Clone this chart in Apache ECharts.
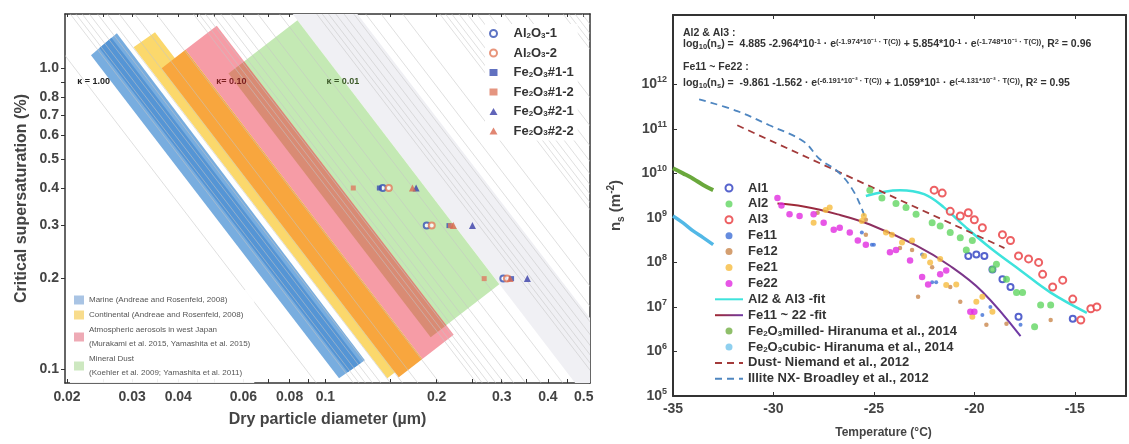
<!DOCTYPE html>
<html>
<head>
<meta charset="utf-8">
<title>CCN and INP chart</title>
<script src="https://cdn.jsdelivr.net/npm/echarts@6.0.0/dist/echarts.min.js"></script>
<style>html,body{margin:0;padding:0;background:#fff}#chart{width:1129px;height:444px}</style>
</head>
<body>
<div id="chart"></div>
<script>
// ================= LEFT PANEL DATA =================
const leftXRange = [0.01975, 0.52];          // dry diameter (µm)
const leftYRange = [0.09, 1.514];            // critical supersaturation (%)
const leftXLabels = [0.02, 0.03, 0.04, 0.06, 0.08, 0.1, 0.2, 0.3, 0.4, 0.5];
const leftXTicks = [0.02, 0.025, 0.03, 0.035, 0.04, 0.045, 0.05, 0.06, 0.07, 0.08, 0.09, 0.1, 0.15, 0.2, 0.25, 0.3, 0.35, 0.4, 0.45, 0.5];
const leftYLabels = [0.1, 0.2, 0.3, 0.4, 0.5, 0.6, 0.7, 0.8, 1.0];
const leftYTicks = [0.1, 0.2, 0.3, 0.4, 0.5, 0.6, 0.7, 0.8, 0.9, 1.0];

// kappa iso-lines: dry diameter (µm) where each line crosses 1 % supersaturation
const kappaLineD = [0.02099, 0.02645, 0.02739, 0.02849, 0.02979, 0.03136, 0.03332, 0.03590, 0.03951, 0.04523,
  0.05698, 0.05901, 0.06138, 0.06417, 0.06756, 0.07179, 0.07734, 0.08512, 0.09744,
  0.1228, 0.1271, 0.1322, 0.1383, 0.1456, 0.1547, 0.1666, 0.1834, 0.2099,
  0.2645, 0.2739, 0.2849, 0.2979, 0.3136, 0.3332, 0.3590, 0.3951, 0.4523,
  0.5698, 0.5901, 0.6138, 0.6417];
const kappaLineSlope = 1.6;   // |d log S / d log D| of the iso-lines
const kappaText = ['κ = 1.00', 'κ= 0.10', 'κ = 0.01'];
const kappaTextD = [0.0236, 0.0557, 0.1116];
const kappaTextS = [0.905, 0.905, 0.905];

// aerosol-type bands: corner diameters / supersaturations (TL, TR, BR, BL)
const bandNames = [
  'Marine (Andreae and Rosenfeld, 2008)',
  'Continental (Andreae and Rosenfeld, 2008)',
  'Atmospheric aerosols in west Japan\n(Murakami et al. 2015, Yamashita et al. 2015)',
  'Mineral Dust\n(Koehler et al. 2009; Yamashita et al. 2011)'
];
const marineD = [[0.02322, 0.02728, 0.1279, 0.1089], [0.02447, 0.02638, 0.1246, 0.1150]];
const marineS = [[1.105, 1.307, 0.1071, 0.0933], [1.167, 1.262, 0.1048, 0.0978]];
const continentalD = [[0.03027, 0.0346, 0.1673, 0.1471], [0.03607, 0.04183, 0.1830, 0.1580]];
const continentalS = [[1.174, 1.317, 0.1055, 0.0933], [1.0, 1.151, 0.1081, 0.0941]];
const westJapanD = [[0.04183, 0.05084, 0.2224, 0.1830]];
const westJapanS = [[1.151, 1.384, 0.1301, 0.1081]];
const dustD = [[0.05468, 0.08402, 0.2956, 0.1927], [0.05468, 0.06029, 0.2124, 0.1927]];
const dustS = [[0.9605, 1.443, 0.1916, 0.1276], [0.9605, 1.0534, 0.1400, 0.1276]];
const lowKappaD = [[0.08158, 0.1221, 0.709, 0.474]];
const lowKappaS = [[1.514, 1.514, 0.09, 0.09]];

// measured samples: diameters (µm) at each supersaturation level
const ssLevels = [0.4, 0.3, 0.2];
const sampleNames = ['Al2O3-1', 'Al2O3-2', 'Fe2O3#1-1', 'Fe2O3#1-2', 'Fe2O3#2-1', 'Fe2O3#2-2'];
const dAl2O3_1 = [0.143, 0.188, 0.303];
const dAl2O3_2 = [0.1485, 0.194, 0.310];
const dFe1_1 = [0.140, 0.216, 0.319];
const dFe1_2 = [0.119, 0.218, 0.269];
const dFe2_1 = [0.176, 0.250, 0.352];
const dFe2_2 = [0.172, 0.222, 0.316];

// ================= RIGHT PANEL DATA =================
const tempRange = [-35, -12.45];
const nsExpRange = [5, 13.556];
const nsTickExps = [5, 6, 7, 8, 9, 10, 11, 12];

const al1T = [-20.3, -19.9, -19.5, -19.1, -18.6, -18.2, -17.8, -15.1];
const al1N = [1.4e8, 1.5e8, 1.4e8, 6.9e7, 4.2e7, 2.8e7, 6.0e6, 5.4e6];
const al2T = [-25.2, -24.6, -23.9, -23.4, -22.9, -22.1, -21.7, -21.2, -20.7, -20.1, -20.4, -19.1, -18.9, -18.4, -17.9, -17.6, -16.7, -16.2, -17.0];
const al2N = [4.2e9, 2.8e9, 2.1e9, 1.7e9, 1.2e9, 7.8e8, 6.6e8, 4.7e8, 3.6e8, 3.1e8, 1.9e8, 6.9e7, 9.1e7, 4.2e7, 2.1e7, 2.1e7, 1.1e7, 1.1e7, 3.6e6];
const al3T = [-22.0, -21.6, -21.2, -20.7, -20.3, -20.0, -19.6, -18.6, -18.2, -17.8, -17.3, -16.8, -16.6, -16.1, -15.6, -15.1, -14.7, -14.2, -13.9];
const al3N = [4.2e9, 3.6e9, 1.4e9, 1.1e9, 1.3e9, 9.1e8, 6.0e8, 4.2e8, 3.1e8, 1.4e8, 1.2e8, 1.0e8, 5.4e7, 2.8e7, 4.0e7, 1.5e7, 5.1e6, 9.1e6, 1.0e7];
const fe11T = [-25.6, -25.1, -25.0, -22.6, -22.1, -21.9, -19.6, -19.2, -17.7];
const fe11N = [4.7e8, 2.5e8, 2.5e8, 1.5e8, 3.6e7, 3.6e7, 6.6e6, 1.0e7, 4.0e6];
const fe12T = [-27.8, -25.4, -25.4, -23.7, -23.1, -22.8, -22.1, -21.2, -20.7, -19.4, -18.4, -16.2];
const fe12N = [1.3e9, 9.1e8, 4.2e8, 2.1e8, 1.9e8, 1.7e7, 7.8e7, 2.8e7, 1.3e7, 4.0e6, 4.2e6, 5.1e6];
const fe21T = [-28.0, -27.4, -27.2, -25.6, -25.5, -24.4, -24.1, -23.6, -23.1, -22.5, -22.2, -21.7, -21.4, -20.9, -20.1, -19.9, -19.6, -19.1];
const fe21N = [7.8e8, 1.5e9, 1.7e9, 8.5e8, 1.1e9, 4.7e8, 4.2e8, 2.8e8, 3.1e8, 1.4e8, 1.0e8, 1.2e8, 3.1e7, 3.2e7, 6.0e6, 1.3e7, 1.7e7, 7.8e6];
const fe22T = [-29.8, -29.6, -29.2, -28.7, -28.0, -27.5, -27.0, -26.7, -26.2, -25.8, -25.4, -24.2, -23.9, -23.2, -22.6, -22.3, -21.7, -21.4, -20.2, -20.0];
const fe22N = [2.8e9, 1.9e9, 1.2e9, 1.1e9, 1.2e9, 7.8e8, 5.4e8, 6.0e8, 4.7e8, 3.1e8, 2.5e8, 1.7e8, 1.9e8, 1.1e8, 4.7e7, 3.2e7, 5.4e7, 6.6e7, 7.8e6, 7.8e6];

const alFitT = [-25.4, -23.7, -22.5, -21.5, -20.5, -19.2, -17.7, -16.2, -14.4];
const alFitN = [3.1e9, 4.2e9, 3.4e9, 1.7e9, 6.6e8, 2.1e8, 6.6e7, 2.1e7, 7.4e6];
const feFitT = [-29.8, -28.5, -26.8, -25.2, -22.9, -21.2, -19.6, -17.7];
const feFitN = [2.1e9, 1.8e9, 1.2e9, 7.1e8, 2.4e8, 8.3e7, 2.2e7, 2.2e6];
const milledT = [-35, -34.5, -34, -33.5, -33];
const milledN = [1.3e10, 1.0e10, 7.6e9, 5.5e9, 4.2e9];
const cubicT = [-35, -34.5, -34, -33.5, -33];
const cubicN = [1.1e9, 7.7e8, 5.1e8, 3.6e8, 2.5e8];
const dustT = [-31.8, -18.5];
const dustN = [1.2e11, 2.1e8];
const illiteT = [-33.7, -31.8, -30.2, -28.5, -27.7, -26.8, -26.1, -25.55, -25.45];
const illiteN = [4.6e11, 2.5e11, 1.2e11, 5.2e10, 2.1e10, 1.1e10, 4.6e9, 1.4e9, 9.0e8];

// ================= BUILD =================
const L10 = v => Math.log10(v);
const FONT = 'Arial, "Liberation Sans", sans-serif';
const AX = '#333';
const LBL = '#444';

const fmtLeftX = v => String(parseFloat(Math.pow(10, v).toPrecision(2)));
const fmtLeftY = v => Math.pow(10, v).toFixed(1);

function bandSeries(name, D, S, fills, z2s) {
  return {
    type: 'custom', name, coordinateSystem: 'cartesian2d', xAxisIndex: 0, yAxisIndex: 0,
    clip: true, z: 2, silent: true,
    data: D.map((d, i) => d.map(L10).concat(S[i].map(L10))),
    encode: { x: [0, 1, 2, 3], y: [4, 5, 6, 7] },
    itemStyle: { color: fills[0] },
    renderItem: (params, api) => {
      const pts = [0, 1, 2, 3].map(k => api.coord([api.value(k), api.value(k + 4)]));
      return { type: 'polygon', z2: z2s[params.dataIndex], shape: { points: pts },
        style: { fill: fills[params.dataIndex] } };
    }
  };
}

const leftSampleStyle = [
  { d: dAl2O3_1, symbol: 'emptyCircle', size: 6, color: '#3550b4' },
  { d: dAl2O3_2, symbol: 'emptyCircle', size: 6, color: '#e27a5a' },
  { d: dFe1_1, symbol: 'rect', size: 5, color: '#3a4db0' },
  { d: dFe1_2, symbol: 'rect', size: 5, color: '#de7a60' },
  { d: dFe2_1, symbol: 'triangle', size: 7, color: '#3a3fa8' },
  { d: dFe2_2, symbol: 'triangle', size: 7, color: '#d9684f' }
];

const rightScatterStyle = [
  { name: 'Al1', T: al1T, N: al1N, symbol: 'emptyCircle', size: 6, color: '#2c3cc0' },
  { name: 'Al2', T: al2T, N: al2N, symbol: 'circle', size: 7, color: '#62d662' },
  { name: 'Al3', T: al3T, N: al3N, symbol: 'emptyCircle', size: 7, color: '#e8383c' },
  { name: 'Fe11', T: fe11T, N: fe11N, symbol: 'circle', size: 4, color: '#3e6fd6' },
  { name: 'Fe12', T: fe12T, N: fe12N, symbol: 'circle', size: 4.5, color: '#c9874c' },
  { name: 'Fe21', T: fe21T, N: fe21N, symbol: 'circle', size: 6, color: '#f6bb3e' },
  { name: 'Fe22', T: fe22T, N: fe22N, symbol: 'circle', size: 6.5, color: '#e12ce0' }
];

const lineNames = ['Al2 & Al3 -fit', 'Fe11 ~ 22 -fit', 'Fe2O3milled- Hiranuma et al., 2014',
  'Fe2O3cubic- Hiranuma et al., 2014', 'Dust- Niemand et al., 2012', 'Illite NX- Broadley et al., 2012'];

const series = [];
// bands
series.push(bandSeries(bandNames[0], marineD, marineS, ['#78addf', '#5595d5'], [6, 7]));
series.push(bandSeries(bandNames[1], continentalD, continentalS, ['#fbd86c', '#f8a63e'], [4, 5]));
series.push(bandSeries(bandNames[2], westJapanD, westJapanS, ['#f69ca6'], [2]));
series.push(bandSeries(bandNames[3], dustD, dustS, ['#c4e9b4', '#d98b74'], [1, 3]));
series.push(bandSeries('low kappa', lowKappaD, lowKappaS, ['#f0f0f4'], [0]));
// kappa iso-lines
series.push({
  type: 'custom', name: 'kappa lines', coordinateSystem: 'cartesian2d', xAxisIndex: 0, yAxisIndex: 0,
  clip: true, z: 3, silent: true,
  data: kappaLineD.map(d => [L10(d), 0]),
  encode: { x: 0, y: 1 },
  renderItem: (params, api) => {
    const x0 = api.value(0);
    const yTop = L10(leftYRange[1]) + 0.05, yBot = L10(leftYRange[0]) - 0.05;
    const p1 = api.coord([x0 - yTop / kappaLineSlope, yTop]);
    const p2 = api.coord([x0 - yBot / kappaLineSlope, yBot]);
    return { type: 'line', shape: { x1: p1[0], y1: p1[1], x2: p2[0], y2: p2[1] },
      style: { stroke: '#c4c4c4', lineWidth: 1, opacity: 0.55 } };
  }
});
// kappa labels
const kappaColors = ['#222', '#7a1f1f', '#3d5a2a'];
series.push({
  type: 'custom', name: 'kappa labels', coordinateSystem: 'cartesian2d', xAxisIndex: 0, yAxisIndex: 0,
  z: 5, silent: true,
  data: kappaText.map((t, i) => [L10(kappaTextD[i]), L10(kappaTextS[i])]),
  encode: { x: 0, y: 1 },
  renderItem: (params, api) => {
    const p = api.coord([api.value(0), api.value(1)]);
    return { type: 'text', x: p[0], y: p[1],
      style: { text: kappaText[params.dataIndex], fill: kappaColors[params.dataIndex],
        fontSize: 9, fontWeight: 'bold', fontFamily: FONT, align: 'center', verticalAlign: 'middle' } };
  }
});
// left samples
sampleNames.forEach((nm, i) => {
  const st = leftSampleStyle[i];
  series.push({
    type: 'scatter', name: nm, xAxisIndex: 0, yAxisIndex: 0, z: 6,
    symbol: st.symbol, symbolSize: st.size,
    itemStyle: { color: st.color, borderWidth: st.symbol === 'emptyCircle' ? 1.3 : 0 },
    data: st.d.map((d, k) => [L10(d), L10(ssLevels[k])])
  });
});
// right lines
const fitFe = new echarts.graphic.LinearGradient(0, 0, 1, 0, [
  { offset: 0, color: '#a2282e' }, { offset: 1, color: '#6e3aa8' }]);
const lineDefs = [
  { T: alFitT, N: alFitN, color: '#3ee3dc', width: 2.5, type: 'solid', smooth: true },
  { T: feFitT, N: feFitN, color: fitFe, legendColor: '#8a2b5a', width: 2, type: 'solid', smooth: true },
  { T: milledT, N: milledN, color: '#6aa83c', width: 4, type: 'solid', smooth: true },
  { T: cubicT, N: cubicN, color: '#52b8e6', width: 3.5, type: 'solid', smooth: true },
  { T: dustT, N: dustN, color: '#a33a3a', width: 1.8, type: [7, 5], smooth: false },
  { T: illiteT, N: illiteN, color: '#4f86c0', width: 1.8, type: [7, 5], smooth: true }
];
lineNames.forEach((nm, i) => {
  const st = lineDefs[i];
  series.push({
    type: 'line', name: nm, xAxisIndex: 2, yAxisIndex: 2, z: 3,
    showSymbol: false, symbol: 'none', smooth: st.smooth ? 0.4 : false,
    lineStyle: { color: st.color, width: st.width, type: st.type },
    itemStyle: { color: st.legendColor || st.color },
    data: st.T.map((t, k) => [t, L10(st.N[k])])
  });
});
// right scatter
rightScatterStyle.forEach(st => {
  series.push({
    type: 'scatter', name: st.name, xAxisIndex: 2, yAxisIndex: 2, z: 4,
    symbol: st.symbol, symbolSize: st.size,
    itemStyle: { color: st.color, borderWidth: st.symbol === 'emptyCircle' ? 1.4 : 0 },
    data: st.T.map((t, k) => [t, L10(st.N[k])])
  });
});

const subRich = {
  s: { fontSize: 8, fontWeight: 'bold', verticalAlign: 'bottom', color: '#333', fontFamily: FONT },
};
const chemFmt = n => n.replace(/(Al|Fe)2O3/, '$1{s|2}O{s|3}');

const formulaRich = {
  b: { fontSize: 7.5, fontWeight: 'bold', verticalAlign: 'bottom', fill: '#333', fontFamily: FONT },
  t: { fontSize: 7.5, fontWeight: 'bold', verticalAlign: 'top', fill: '#333', fontFamily: FONT }
};
function formulaText(x, y, text) {
  return { type: 'text', left: x, top: y, z: 10,
    style: { text, fill: '#333', fontSize: 10.5, fontWeight: 'bold', fontFamily: FONT, lineHeight: 13,
      rich: formulaRich } };
}
const lineLegendItem = n => ({ name: n, itemStyle: { opacity: 0 } });

const option = {
  animation: false,
  textStyle: { fontFamily: FONT },
  grid: [
    { left: 65, top: 14, width: 525, height: 369 },
    { left: 673, top: 15, width: 453, height: 385 }
  ],
  xAxis: [
    { type: 'value', gridIndex: 0, min: L10(leftXRange[0]), max: L10(leftXRange[1]),
      axisLine: { onZero: false, lineStyle: { color: AX, width: 1.5 } },
      axisTick: { inside: true, length: 4, customValues: leftXTicks.map(L10), lineStyle: { color: AX } },
      axisLabel: { customValues: leftXLabels.map(L10), formatter: fmtLeftX, color: LBL, fontSize: 14,
        fontWeight: 'bold', margin: 7 },
      splitLine: { show: false },
      name: 'Dry particle diameter (µm)', nameLocation: 'middle', nameGap: 29,
      nameTextStyle: { fontSize: 16, fontWeight: 'bold', color: LBL } },
    { type: 'value', gridIndex: 0, position: 'top', min: L10(leftXRange[0]), max: L10(leftXRange[1]),
      axisLine: { onZero: false, lineStyle: { color: AX, width: 1.5 } },
      axisTick: { inside: true, length: 3, customValues: leftXTicks.map(L10), lineStyle: { color: AX } },
      axisLabel: { show: false }, splitLine: { show: false } },
    { type: 'value', gridIndex: 1, min: tempRange[0], max: tempRange[1], interval: 5,
      axisLine: { onZero: false, lineStyle: { color: AX, width: 2 } },
      axisTick: { inside: true, length: 4, lineStyle: { color: AX } },
      axisLabel: { color: LBL, fontSize: 14, fontWeight: 'bold', margin: 6, showMaxLabel: false },
      splitLine: { show: false },
      name: 'Temperature (°C)', nameLocation: 'middle', nameGap: 31,
      nameTextStyle: { fontSize: 12, fontWeight: 'bold', color: LBL, padding: [0, 32, 0, 0] } },
    { type: 'value', gridIndex: 1, position: 'top', min: tempRange[0], max: tempRange[1], interval: 5,
      axisLine: { onZero: false, lineStyle: { color: AX, width: 2 } },
      axisTick: { inside: true, length: 4, lineStyle: { color: AX } },
      axisLabel: { show: false }, splitLine: { show: false } }
  ],
  yAxis: [
    { type: 'value', gridIndex: 0, min: L10(leftYRange[0]), max: L10(leftYRange[1]),
      axisLine: { show: true, onZero: false, lineStyle: { color: AX, width: 1.5 } },
      axisTick: { show: true, inside: false, length: 4, customValues: leftYTicks.map(L10), lineStyle: { color: AX } },
      axisLabel: { customValues: leftYLabels.map(L10), formatter: fmtLeftY, color: LBL, fontSize: 14,
        fontWeight: 'bold', margin: 6 },
      splitLine: { show: false },
      name: 'Critical supersaturation (%)', nameLocation: 'middle', nameGap: 35,
      nameTextStyle: { fontSize: 16, fontWeight: 'bold', color: LBL } },
    { type: 'value', gridIndex: 0, position: 'right', min: L10(leftYRange[0]), max: L10(leftYRange[1]),
      axisLine: { show: true, onZero: false, lineStyle: { color: AX, width: 1.5 } },
      axisTick: { show: false }, axisLabel: { show: false }, splitLine: { show: false } },
    { type: 'value', gridIndex: 1, min: nsExpRange[0], max: nsExpRange[1],
      axisLine: { show: true, onZero: false, lineStyle: { color: AX, width: 2 } },
      axisTick: { show: true, inside: true, length: 4, customValues: nsTickExps, lineStyle: { color: AX } },
      axisLabel: { customValues: nsTickExps, formatter: v => '10{p|' + Math.round(v) + '}',
        color: LBL, fontSize: 14, fontWeight: 'bold', margin: 6, lineHeight: 18,
        rich: { p: { fontSize: 9, fontWeight: 'bold', verticalAlign: 'top', color: LBL, fontFamily: FONT } } },
      splitLine: { show: false },
      name: 'n{b|s} (m{t|-2})', nameLocation: 'middle', nameGap: 47,
      nameTextStyle: { fontSize: 15, fontWeight: 'bold', color: LBL, lineHeight: 20,
        rich: { b: { fontSize: 10, fontWeight: 'bold', verticalAlign: 'bottom', color: LBL, fontFamily: FONT },
                t: { fontSize: 10, fontWeight: 'bold', verticalAlign: 'top', color: LBL, fontFamily: FONT } } } },
    { type: 'value', gridIndex: 1, position: 'right', min: nsExpRange[0], max: nsExpRange[1],
      axisLine: { show: true, onZero: false, lineStyle: { color: AX, width: 2 } },
      axisTick: { show: false }, axisLabel: { show: false }, splitLine: { show: false } }
  ],
  legend: [
    { orient: 'vertical', left: 485, top: 24, padding: [3, 4], backgroundColor: '#fff',
      itemWidth: 8, itemHeight: 7, itemGap: 6.5, selectedMode: false,
      data: sampleNames,
      formatter: chemFmt,
      textStyle: { fontSize: 13, fontWeight: 'bold', color: '#333', lineHeight: 12, padding: [0, 0, 0, 11], rich: subRich } },
    { orient: 'vertical', left: 70, top: 290, padding: [3, 4], backgroundColor: 'rgba(255,255,255,0.92)',
      itemWidth: 10, itemHeight: 9, itemGap: 1, selectedMode: false,
      data: bandNames.map((n, i) => ({ name: n, icon: 'rect',
        itemStyle: { color: ['#a9c4e4', '#f8dc8c', '#eeaab5', '#cde8c0'][i] } })),
      textStyle: { fontSize: 8, color: '#555', lineHeight: 14 } },
    { orient: 'vertical', left: 709, top: 176, padding: 5,
      itemWidth: 28, itemHeight: 7, itemGap: 1.9, selectedMode: false,
      data: ['Al1', 'Al2', 'Al3', 'Fe11', 'Fe12', 'Fe21', 'Fe22',
        lineLegendItem(lineNames[0]), lineLegendItem(lineNames[1]),
        { name: lineNames[2], icon: 'circle', itemStyle: { color: '#8fbf6a' } },
        { name: lineNames[3], icon: 'circle', itemStyle: { color: '#8fd0ef' } },
        lineLegendItem(lineNames[4]), lineLegendItem(lineNames[5])],
      formatter: chemFmt,
      textStyle: { fontSize: 13, fontWeight: 'bold', color: '#333', lineHeight: 14, rich: subRich } }
  ],
  graphic: [
    formulaText(683, 27, 'Al2 & Al3 :'),
    formulaText(683, 38, 'log{b|10}(n{b|s}) =  4.885 -2.964*10{t|-1} · e{t|(-1.974*10⁻¹ · T(C))} + 5.854*10{t|-1} · e{t|(-1.748*10⁻¹ · T(C))}, R{t|2} = 0.96'),
    formulaText(683, 61, 'Fe11 ~ Fe22 :'),
    formulaText(683, 77, 'log{b|10}(n{b|s}) =  -9.861 -1.562 · e{t|(-6.191*10⁻² · T(C))} + 1.059*10{t|1} · e{t|(-4.131*10⁻² · T(C))}, R{t|2} = 0.95')
  ],
  series
};

const chart = echarts.init(document.getElementById('chart'), null, { renderer: 'canvas' });
chart.setOption(option);
</script>
</body>
</html>
